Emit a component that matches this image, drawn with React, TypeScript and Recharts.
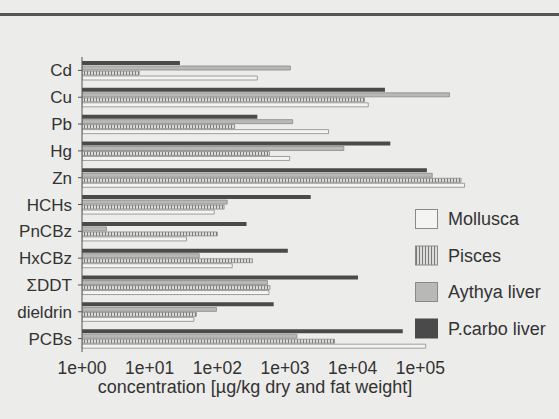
import { BarChart, Bar, XAxis, YAxis } from "recharts";

const categories = ["Cd", "Cu", "Pb", "Hg", "Zn", "HCHs", "PnCBz", "HxCBz", "ΣDDT", "dieldrin", "PCBs"];
const mollusca = [390, 17000, 4400, 1170, 450000, 90, 35, 166, 580, 45, 120000];
const pisces = [7, 15000, 180, 590, 400000, 126, 100, 330, 600, 49, 5400];
const aythya = [1200, 270000, 1300, 7400, 150000, 140, 2.3, 54, 550, 97, 1500];
const pcarbo = [28, 30000, 390, 36000, 125000, 2400, 270, 1100, 12000, 680, 55000];
const ticks = [1, 10, 100, 1000, 10000, 100000];

const data = categories.map((name, i) => ({
  name,
  mollusca: mollusca[i],
  pisces: pisces[i],
  aythya: aythya[i],
  pcarbo: pcarbo[i],
}));

const INK = "#333";
const FONT = "Liberation Sans, Arial, sans-serif";

const legendItems = [
  { label: "Mollusca", fill: "#f4f4f2", stroke: "#8a8a8a" },
  { label: "Pisces", fill: "url(#hatchLegend)", stroke: "#8a8a8a" },
  { label: "Aythya liver", fill: "#b8b8b6", stroke: "#8a8a8a" },
  { label: "P.carbo liver", fill: "#4a4a4a", stroke: "#4a4a4a" },
];

function fmtTick(v: number) {
  const e = Math.round(Math.log10(v));
  return `1e+${String(e).padStart(2, "0")}`;
}

function ChartLegend() {
  return (
    <svg width={150} height={140} style={{ position: "absolute", left: 410, top: 204 }}>
      <defs>
        <pattern id="hatchLegend" width="3" height="4" patternUnits="userSpaceOnUse">
          <rect width="3" height="4" fill="#dcdcda" />
          <line x1="0.5" y1="0" x2="0.5" y2="4" stroke="#7a7a7a" strokeWidth="1" />
        </pattern>
      </defs>
      {legendItems.map((it, i) => (
        <g key={it.label} transform={`translate(0, ${i * 36.5})`}>
          <rect x={5.5} y={5.5} width={22} height={19} fill={it.fill} stroke={it.stroke} />
          <text x={38} y={21} fontSize={18} fill={INK} fontFamily={FONT}>{it.label}</text>
        </g>
      ))}
    </svg>
  );
}

export default function App() {
  return (
    <div style={{ position: "fixed", left: 0, top: 0, width: 559, height: 419, background: "#ececea", overflow: "hidden" }}>
      <div style={{ position: "absolute", left: 0, top: 13, width: 559, height: 3, background: "#555" }} />
      <BarChart
        width={559}
        height={419}
        data={data}
        layout="vertical"
        margin={{ top: 57, right: 71, bottom: 22, left: 0 }}
        barSize={4}
        barGap={1}
        barCategoryGap="17%"
      >
        <defs>
          <pattern id="hatch" width="3" height="4" patternUnits="userSpaceOnUse">
            <rect width="3" height="4" fill="#dcdcda" />
            <line x1="0.5" y1="0" x2="0.5" y2="4" stroke="#7a7a7a" strokeWidth="1" />
          </pattern>
        </defs>
        <XAxis
          type="number"
          scale="log"
          domain={[1, 1000000]}
          ticks={ticks}
          tickFormatter={fmtTick}
          allowDataOverflow
          axisLine={false}
          tickLine={false}
          tickMargin={4}
          height={45}
          tick={{ fontSize: 17.5, fill: INK, fontFamily: FONT }}
        />
        <YAxis
          type="category"
          dataKey="name"
          width={82}
          axisLine={{ stroke: "#555" }}
          tickLine={{ stroke: "#555" }}
          tickSize={4}
          tickMargin={6}
          interval={0}
          tick={{ fontSize: 17, fill: INK, fontFamily: FONT }}
        />
        <Bar dataKey="pcarbo" fill="#4a4a4a" isAnimationActive={false} />
        <Bar dataKey="aythya" fill="#b8b8b6" stroke="#8a8a8a" strokeWidth={0.8} isAnimationActive={false} />
        <Bar dataKey="pisces" fill="url(#hatch)" stroke="#8a8a8a" strokeWidth={0.8} isAnimationActive={false} />
        <Bar dataKey="mollusca" fill="#f4f4f2" stroke="#8a8a8a" strokeWidth={0.8} isAnimationActive={false} />
      </BarChart>
      <div
        style={{
          position: "absolute",
          left: 55,
          top: 377,
          width: 400,
          textAlign: "center",
          fontSize: 18,
          color: INK,
          fontFamily: FONT,
        }}
      >
        concentration [µg/kg dry and fat weight]
      </div>
      <ChartLegend />
    </div>
  );
}
